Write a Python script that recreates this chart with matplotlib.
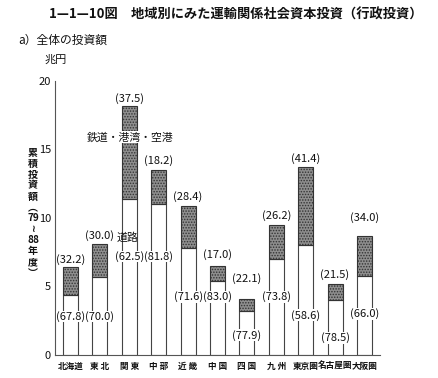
import matplotlib
matplotlib.use("Agg")
import matplotlib.pyplot as plt

plt.rcParams['font.family'] = ['Noto Sans CJK JP', 'DejaVu Sans']
plt.rcParams['hatch.linewidth'] = 0.7

regions = ["北海道", "東 北", "関 東", "中 部", "近 畿", "中 国", "四 国", "九 州", "東京圏", "名古屋圏", "大阪圏"]
road = [4.35, 5.67, 11.4, 11.05, 7.8, 5.4, 3.2, 7.0, 8.0, 4.05, 5.75]
other = [2.05, 2.43, 6.8, 2.45, 3.1, 1.1, 0.9, 2.5, 5.7, 1.1, 2.95]
other_pct = ["(32.2)", "(30.0)", "(37.5)", "(18.2)", "(28.4)", "(17.0)", "(22.1)", "(26.2)", "(41.4)", "(21.5)", "(34.0)"]
road_pct = ["(67.8)", "(70.0)", "(62.5)", "(81.8)", "(71.6)", "(83.0)", "(77.9)", "(73.8)", "(58.6)", "(78.5)", "(66.0)"]
other_label_y = [7.0, 8.75, 18.75, 14.2, 11.55, 7.3, 5.55, 10.2, 14.35, 5.85, 10.0]
road_label_y = [2.8, 2.8, 7.2, 7.2, 4.25, 4.25, 1.45, 4.25, 2.9, 1.25, 3.0]
yticks = [0, 5, 10, 15, 20]

fig = plt.figure(figsize=(4.38, 3.78), dpi=100)
ax = fig.add_axes([55/438, 23/378, 325/438, 274/378])

x = list(range(len(regions)))
ax.bar(x, road, width=0.51, color="white", edgecolor="#444444", linewidth=0.8)
ax.bar(x, other, width=0.51, bottom=road, color="#8e8e8e", edgecolor="#333333",
       linewidth=0.8, hatch="......")

for i in x:
    ax.text(i, other_label_y[i], other_pct[i], ha="center", va="center", fontsize=8, color="#111111")
    ax.text(i, road_label_y[i], road_pct[i], ha="center", va="center", fontsize=8, color="#111111",
            bbox=dict(facecolor="white", edgecolor="none", pad=0.2))

ax.text(2.02, 15.9, "鉄道・港湾・空港", ha="center", va="center", fontsize=7.8, color="#111111",
        bbox=dict(facecolor="white", edgecolor="none", pad=0.5))
ax.text(1.92, 8.55, "道路", ha="center", va="center", fontsize=7.8, color="#111111")

ax.set_xlim(-0.53, 10.53)
ax.set_ylim(0, 20)
ax.set_yticks(yticks)
ax.set_yticklabels([str(t) for t in yticks], fontsize=8)
ax.set_xticks(x)
ax.set_xticklabels(regions, fontsize=6.2, fontweight="bold")
ax.tick_params(axis="both", length=0, pad=3, colors="#111111")
ax.tick_params(axis="x", pad=5)
for s in ["top", "right"]:
    ax.spines[s].set_visible(False)
ax.spines["left"].set_color("#555555")
ax.spines["bottom"].set_color("#555555")

fig.text(236/438, 1 - 15/378, "1—1—10図　地域別にみた運輸関係社会資本投資（行政投資）",
         ha="center", va="center", fontsize=9.5, fontweight="bold", color="#111111")
fig.text(18/438, 1 - 40/378, "a）全体の投資額", ha="left", va="center", fontsize=8.5, color="#111111")
fig.text(45/438, 1 - 60/378, "兆円", ha="left", va="center", fontsize=8, color="#111111")

ylabel_chars = ["累", "積", "投", "資", "額", "︵", "79", "≀", "88", "年", "度", "︶"]
fig.text(33/438, 1 - 213/378, "\n".join(ylabel_chars), ha="center", va="center",
         fontsize=7.2, fontweight="bold", linespacing=1.12, color="#111111")

fig.savefig("out.png", dpi=100)
